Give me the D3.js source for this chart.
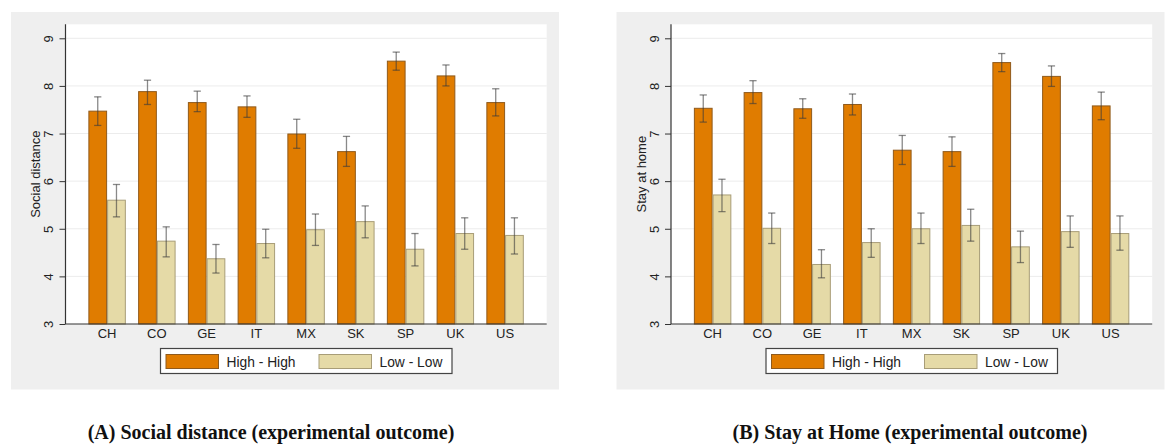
<!DOCTYPE html>
<html><head><meta charset="utf-8">
<script src="https://cdn.jsdelivr.net/npm/d3@7"></script>
<style>
html,body{margin:0;padding:0;background:#fff;}
svg{display:block;}
</style></head>
<body>
<svg id="chart" width="1165" height="445"></svg>
<script>
const countries = ["CH","CO","GE","IT","MX","SK","SP","UK","US"];
const seriesNames = ["High - High","Low - Low"];
const yTicks = [3,4,5,6,7,8,9];

// Panel A: Social distance
const aHighMean = [7.47,7.88,7.65,7.56,6.99,6.62,8.52,8.21,7.65];
const aHighLo   = [7.17,7.61,7.46,7.34,6.69,6.31,8.33,8.00,7.37];
const aHighHi   = [7.77,8.12,7.89,7.79,7.30,6.94,8.71,8.44,7.94];
const aLowMean  = [5.60,4.74,4.37,4.69,4.98,5.15,4.57,4.90,4.86];
const aLowLo    = [5.25,4.41,4.07,4.39,4.65,4.81,4.22,4.57,4.47];
const aLowHi    = [5.93,5.04,4.67,4.99,5.31,5.48,4.90,5.23,5.23];

// Panel B: Stay at home
const bHighMean = [7.53,7.86,7.52,7.61,6.65,6.62,8.49,8.20,7.58];
const bHighLo   = [7.24,7.63,7.32,7.39,6.35,6.31,8.30,7.99,7.29];
const bHighHi   = [7.81,8.11,7.73,7.83,6.96,6.93,8.68,8.42,7.87];
const bLowMean  = [5.71,5.01,4.25,4.71,5.00,5.07,4.62,4.94,4.90];
const bLowLo    = [5.36,4.69,3.97,4.40,4.69,4.74,4.29,4.61,4.55];
const bLowHi    = [6.04,5.33,4.56,5.00,5.33,5.41,4.95,5.27,5.27];

const panels = [
  {ox:0, ytitle:"Social distance", caption:"(A) Social distance (experimental outcome)", capX:271,
   series:[{mean:aHighMean,lo:aHighLo,hi:aHighHi},{mean:aLowMean,lo:aLowLo,hi:aLowHi}]},
  {ox:605.5, ytitle:"Stay at home", caption:"(B) Stay at Home (experimental outcome)", capX:910,
   series:[{mean:bHighMean,lo:bHighLo,hi:bHighHi},{mean:bLowMean,lo:bLowLo,hi:bLowHi}]}
];

const fills = ["#e07c00","#e5daa7"];
const strokes = ["#8f5a1c","#a89d78"];
const FONT = "'Liberation Sans', Arial, sans-serif";

const svg = d3.select("#chart");

panels.forEach(p => {
  const g = svg.append("g").attr("transform", `translate(${p.ox},0)`);
  const L = 65.5, R = 546.7, T = 24.3, B = 324;
  // background
  g.append("rect").attr("x",11).attr("y",12).attr("width",548).attr("height",377.5).attr("fill","#efefef");
  g.append("rect").attr("x",L).attr("y",T).attr("width",R-L).attr("height",B-T).attr("fill","#fff");

  const y = d3.scaleLinear().domain([3,9]).range([B,38.3]);
  const x = d3.scaleBand().domain(countries).range([L,R]).paddingInner(0.247).paddingOuter(0.46);
  const xs = d3.scaleBand().domain([0,1]).range([0,x.bandwidth()]);

  // gridlines
  g.append("g").selectAll("line").data(yTicks.filter(t=>t>3)).join("line")
    .attr("x1",L).attr("x2",R).attr("y1",d=>y(d)).attr("y2",d=>y(d))
    .attr("stroke","#ececec").attr("stroke-width",1);

  // bars
  p.series.forEach((s,si) => {
    const gs = g.append("g");
    gs.selectAll("rect").data(countries).join("rect")
      .attr("x",(c)=>x(c)+xs(si)+0.5)
      .attr("width",xs.bandwidth()-1)
      .attr("y",(c,i)=>y(s.mean[i]))
      .attr("height",(c,i)=>y(3)-y(s.mean[i]))
      .attr("fill",fills[si]).attr("stroke",strokes[si]).attr("stroke-width",1);
  });
  // error bars
  p.series.forEach((s,si) => {
    const ge = g.append("g").attr("stroke","#3a3a3a").attr("stroke-opacity",0.6).attr("stroke-width",1.3).attr("fill","none");
    countries.forEach((c,i) => {
      const cx = x(c)+xs(si)+xs.bandwidth()/2;
      const cw = 3.6;
      ge.append("line").attr("x1",cx).attr("x2",cx).attr("y1",y(s.lo[i])).attr("y2",y(s.hi[i]));
      ge.append("line").attr("x1",cx-cw).attr("x2",cx+cw).attr("y1",y(s.lo[i])).attr("y2",y(s.lo[i]));
      ge.append("line").attr("x1",cx-cw).attr("x2",cx+cw).attr("y1",y(s.hi[i])).attr("y2",y(s.hi[i]));
    });
  });

  // y axis
  const yAxis = d3.axisLeft(y).tickValues(yTicks).tickSize(6).tickPadding(6).tickFormat(d3.format("d"));
  const ya = g.append("g").attr("transform",`translate(${L},0)`).call(yAxis);
  ya.select(".domain").remove();
  ya.selectAll(".tick line").attr("stroke","#333").attr("stroke-width",1);
  ya.selectAll(".tick text")
    .attr("font-family",FONT).attr("font-size",13).attr("fill","#222")
    .attr("x",null).attr("dy",null)
    .attr("text-anchor","middle")
    .attr("transform","translate(-12.3,0) rotate(-90)");
  g.append("line").attr("x1",L).attr("x2",L).attr("y1",T).attr("y2",B).attr("stroke","#333").attr("stroke-width",1.2);

  // x axis
  const xAxis = d3.axisBottom(x).tickSize(0).tickPadding(0);
  const xa = g.append("g").attr("transform",`translate(0,${B})`).call(xAxis);
  xa.select(".domain").remove();
  xa.selectAll(".tick text").attr("font-family",FONT).attr("font-size",13).attr("fill","#222")
    .attr("dy",null).attr("y",13.7);
  g.append("line").attr("x1",L).attr("x2",R).attr("y1",B).attr("y2",B).attr("stroke","#333").attr("stroke-width",1.2);

  // y title
  g.append("text").attr("transform",`translate(40,${(T+B)/2}) rotate(-90)`)
    .attr("text-anchor","middle").attr("font-family",FONT).attr("font-size",13).attr("fill","#222")
    .text(p.ytitle);

  // legend
  const lg = g.append("g");
  lg.append("rect").attr("x",160.5).attr("y",348.5).attr("width",291.5).attr("height",25)
    .attr("fill","#fff").attr("stroke","#444").attr("stroke-width",1.2);
  const legX = [166, 319];
  seriesNames.forEach((nm,si) => {
    lg.append("rect").attr("x",legX[si]).attr("y",354.5).attr("width",52.5).attr("height",14)
      .attr("fill",fills[si]).attr("stroke",strokes[si]).attr("stroke-width",1);
    lg.append("text").attr("x",legX[si]+60.5).attr("y",366.5)
      .attr("font-family",FONT).attr("font-size",13.8).attr("fill","#222").text(nm);
  });

  // caption
  svg.append("text").attr("x",p.capX).attr("y",439).attr("text-anchor","middle")
    .attr("font-family","'Liberation Serif','Times New Roman',serif").attr("font-weight","bold")
    .attr("font-size",20).attr("fill","#111").text(p.caption);
});
</script>
</body></html>
